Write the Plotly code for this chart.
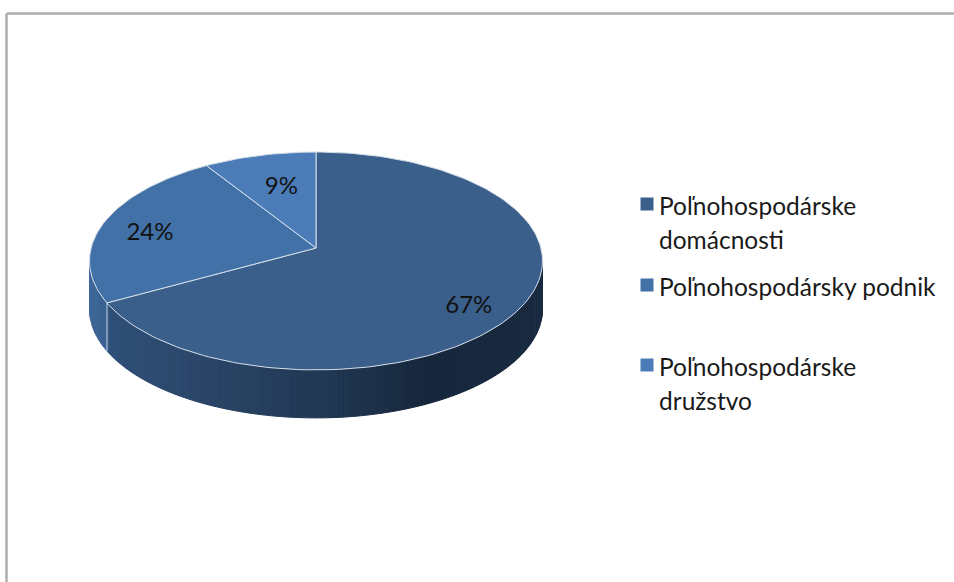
import math
import plotly.graph_objects as go

categories = ["Poľnohospodárske<br>domácnosti", "Poľnohospodársky podnik", "Poľnohospodárske<br>družstvo"]
values = [67, 24, 9]
top_colors = ["#3a5f8a", "#4171a6", "#4c7cb8"]
wall_stops = [
    [(108, "#2f5078"), (200, "#2b4669"), (316, "#223955"), (430, "#17273c"), (542, "#1a2b41")],
    [(89, "#40699a"), (108, "#37608f")],
]
legend_y = [204, 285, 365]
label_r = [0.63, 0.78, 0.68]
label_shift = [(26, 23), (0, 6), (5, 5)]
FONT = "Lato, Carlito, Calibri, sans-serif"

X0, Y0, A, B, P, DEPTH = 316, 248, 224.9, 107.4, 0.119, 48


def proj(theta_deg, r=1.0):
    t = math.radians(theta_deg)
    x, y = r * math.sin(t), r * math.cos(t)
    w = 1 + P * y
    return X0 + A * x / w, Y0 - B * y / w


def hex2rgb(h):
    return [int(h[i:i + 2], 16) for i in (1, 3, 5)]


def grad(stops, x):
    if x <= stops[0][0]:
        return stops[0][1]
    for (x1, c1), (x2, c2) in zip(stops, stops[1:]):
        if x <= x2:
            f = (x - x1) / (x2 - x1)
            a, b = hex2rgb(c1), hex2rgb(c2)
            return "rgb(%d,%d,%d)" % tuple(a[i] + (b[i] - a[i]) * f for i in range(3))
    return stops[-1][1]


fig = go.Figure()

# slice angle spans, clockwise from the top
spans = []
start = 0.0
for v in values:
    spans.append((start, start + v * 3.6))
    start += v * 3.6

# side wall
wall_start = 96.8
wall_end = 263.2
split = spans[0][1]
N = 110
for i in range(N):
    a1 = wall_start + (wall_end - wall_start) * i / N
    a2 = wall_start + (wall_end - wall_start) * (i + 1) / N
    x1, y1 = proj(a1)
    x2, y2 = proj(a2)
    mid = (a1 + a2) / 2
    stops = wall_stops[0] if mid < split else wall_stops[1]
    c = grad(stops, (x1 + x2) / 2)
    fig.add_trace(go.Scatter(
        x=[x1, x2, x2, x1, x1], y=[y1, y2, y2 + DEPTH, y1 + DEPTH, y1],
        mode="lines", fill="toself", fillcolor=c, line=dict(color=c, width=1),
        hoverinfo="skip", showlegend=False))

# divider on the wall where slices meet
sx, sy = proj(split)
fig.add_trace(go.Scatter(x=[sx, sx], y=[sy, sy + DEPTH], mode="lines",
                         line=dict(color="#c5d2e2", width=1), hoverinfo="skip", showlegend=False))

# top faces
for (a, b), name, c in zip(spans, categories, top_colors):
    n = max(4, int((b - a) / 1.5))
    pts = [proj(a + (b - a) * k / n) for k in range(n + 1)]
    xs = [X0] + [p[0] for p in pts] + [X0]
    ys = [Y0] + [p[1] for p in pts] + [Y0]
    fig.add_trace(go.Scatter(x=xs, y=ys, mode="lines", fill="toself", fillcolor=c,
                             line=dict(color="#d5deea", width=1), name=name.replace("<br>", " "),
                             hoverinfo="name", showlegend=False))

# data labels
lx, ly = [], []
for (a, b), r, (dx, dy) in zip(spans, label_r, label_shift):
    px, py = proj((a + b) / 2, r)
    lx.append(px + dx)
    ly.append(py + dy)
fig.add_trace(go.Scatter(x=lx, y=ly, mode="text", text=[f"{v}%" for v in values],
                         textposition="middle center",
                         textfont=dict(family=FONT, size=24, color="#111111"),
                         hoverinfo="skip", showlegend=False))

# legend
fig.add_trace(go.Scatter(x=[647] * 3, y=legend_y, mode="markers",
                         marker=dict(symbol="square", size=13, color=top_colors, line=dict(width=0)),
                         hoverinfo="skip", showlegend=False))
for name, y in zip(categories, legend_y):
    for j, line in enumerate(name.split("<br>")):
        fig.add_annotation(x=659, y=y + 1 + j * 34, xref="x", yref="y", text=line, showarrow=False,
                           xanchor="left", yanchor="middle", align="left", borderpad=0, borderwidth=0,
                           font=dict(family=FONT, size=24.5, color="#1a1a1a"))

fig.update_layout(
    width=954, height=582, margin=dict(l=0, r=0, t=0, b=0),
    paper_bgcolor="white", plot_bgcolor="white", showlegend=False,
    xaxis=dict(range=[0, 954], visible=False, fixedrange=True),
    yaxis=dict(range=[582, 0], visible=False, fixedrange=True),
    shapes=[
        dict(type="line", xref="x", yref="y", x0=6.5, x1=954, y0=13.5, y1=13.5,
             line=dict(color="#aeaeae", width=2.5)),
        dict(type="line", xref="x", yref="y", x0=6.5, x1=6.5, y0=13.5, y1=582,
             line=dict(color="#aeaeae", width=2.5)),
    ],
)

fig.write_html("out.html", config={"displayModeBar": False},
               post_script="document.body.style.margin='0';document.body.style.overflow='hidden';")
